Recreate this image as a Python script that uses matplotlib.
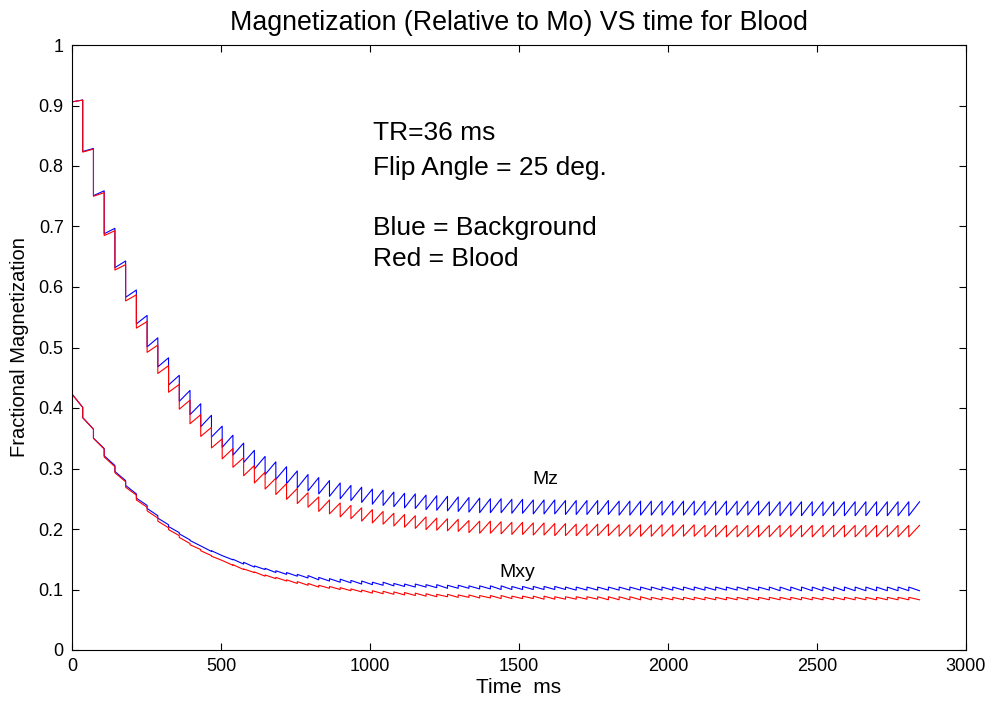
import matplotlib
matplotlib.use('Agg')
import matplotlib.pyplot as plt
import matplotlib.ticker as mticker
import numpy as np

plt.rcParams.update({
    'font.family': ['Liberation Sans', 'DejaVu Sans'],
    'xtick.direction': 'in',
    'ytick.direction': 'in',
    'xtick.top': True,
    'ytick.right': True,
})

TR = 36.0  # ms between pulses

# Mz just after each pulse (k = 0..78) and just before the next one (k = 1..79)
bg_mz_low = [0.906, 0.824, 0.751, 0.688, 0.632, 0.583, 0.539, 0.501, 0.468, 0.438,
             0.411, 0.389, 0.369, 0.352, 0.335, 0.322, 0.310, 0.299, 0.290, 0.282,
             0.275, 0.268, 0.263, 0.258, 0.254, 0.250, 0.247, 0.244, 0.241, 0.239,
             0.237, 0.235, 0.234, 0.232, 0.231, 0.230, 0.229, 0.228, 0.227, 0.227,
             0.227, 0.226, 0.226, 0.225, 0.225, 0.225, 0.224, 0.224, 0.224, 0.224,
             0.224, 0.223, 0.223, 0.223, 0.223, 0.223, 0.223, 0.223, 0.223, 0.223,
             0.223, 0.223, 0.223, 0.223, 0.223, 0.222, 0.222, 0.222, 0.222, 0.222,
             0.222, 0.222, 0.222, 0.222, 0.222, 0.222, 0.222, 0.222, 0.222]
bg_mz_high = [0.909, 0.829, 0.759, 0.697, 0.643, 0.595, 0.553, 0.516, 0.483, 0.454,
              0.429, 0.407, 0.388, 0.370, 0.355, 0.342, 0.330, 0.320, 0.311, 0.303,
              0.296, 0.290, 0.285, 0.280, 0.276, 0.272, 0.269, 0.266, 0.264, 0.261,
              0.259, 0.258, 0.256, 0.255, 0.254, 0.253, 0.252, 0.251, 0.250, 0.250,
              0.249, 0.249, 0.248, 0.248, 0.248, 0.247, 0.247, 0.247, 0.247, 0.247,
              0.246, 0.246, 0.246, 0.246, 0.246, 0.246, 0.246, 0.246, 0.246, 0.246,
              0.246, 0.246, 0.246, 0.246, 0.245, 0.245, 0.245, 0.245, 0.245, 0.245,
              0.245, 0.245, 0.245, 0.245, 0.245, 0.245, 0.245, 0.245, 0.245]
bl_mz_low = [0.906, 0.823, 0.750, 0.685, 0.628, 0.577, 0.532, 0.492, 0.457, 0.426,
             0.398, 0.374, 0.353, 0.334, 0.316, 0.302, 0.288, 0.276, 0.266, 0.257,
             0.249, 0.242, 0.236, 0.229, 0.225, 0.220, 0.217, 0.213, 0.210, 0.208,
             0.205, 0.203, 0.201, 0.199, 0.198, 0.197, 0.196, 0.194, 0.193, 0.193,
             0.192, 0.191, 0.191, 0.190, 0.190, 0.189, 0.189, 0.189, 0.189, 0.189,
             0.189, 0.188, 0.188, 0.188, 0.188, 0.188, 0.188, 0.188, 0.188, 0.187,
             0.187, 0.187, 0.187, 0.187, 0.187, 0.187, 0.187, 0.187, 0.187, 0.187,
             0.187, 0.187, 0.187, 0.187, 0.187, 0.187, 0.187, 0.187, 0.187]
bl_mz_high = [0.909, 0.828, 0.756, 0.693, 0.637, 0.587, 0.543, 0.504, 0.470, 0.439,
              0.413, 0.389, 0.368, 0.349, 0.333, 0.318, 0.305, 0.294, 0.284, 0.275,
              0.267, 0.260, 0.253, 0.248, 0.243, 0.239, 0.235, 0.232, 0.229, 0.226,
              0.224, 0.222, 0.220, 0.218, 0.217, 0.216, 0.214, 0.213, 0.213, 0.212,
              0.211, 0.211, 0.210, 0.210, 0.209, 0.209, 0.208, 0.208, 0.208, 0.208,
              0.207, 0.207, 0.207, 0.207, 0.207, 0.207, 0.207, 0.207, 0.206, 0.206,
              0.206, 0.206, 0.206, 0.206, 0.206, 0.206, 0.206, 0.206, 0.206, 0.206,
              0.206, 0.206, 0.206, 0.206, 0.206, 0.206, 0.206, 0.206, 0.206]

# Mxy right after each pulse and at the end of the TR
bg_mxy_start = [0.423, 0.384, 0.350, 0.321, 0.295, 0.272, 0.251, 0.234, 0.218, 0.204,
                0.192, 0.181, 0.172, 0.164, 0.156, 0.150, 0.145, 0.139, 0.135, 0.131,
                0.128, 0.125, 0.123, 0.120, 0.118, 0.117, 0.115, 0.114, 0.112, 0.112,
                0.110, 0.109, 0.109, 0.108, 0.108, 0.107, 0.107, 0.106, 0.106, 0.106,
                0.106, 0.105, 0.105, 0.105, 0.105, 0.105, 0.104, 0.104, 0.104, 0.104,
                0.104, 0.104, 0.104, 0.104, 0.104, 0.104, 0.104, 0.104, 0.104, 0.104,
                0.104, 0.104, 0.104, 0.104, 0.104, 0.104, 0.104, 0.104, 0.104, 0.104,
                0.104, 0.104, 0.104, 0.104, 0.104, 0.104, 0.104, 0.104, 0.104]
bg_mxy_end = [0.401, 0.365, 0.333, 0.305, 0.280, 0.258, 0.239, 0.222, 0.207, 0.194,
              0.182, 0.172, 0.163, 0.156, 0.149, 0.142, 0.137, 0.133, 0.128, 0.125,
              0.122, 0.119, 0.116, 0.114, 0.112, 0.111, 0.109, 0.108, 0.107, 0.106,
              0.105, 0.104, 0.104, 0.103, 0.102, 0.102, 0.102, 0.101, 0.101, 0.100,
              0.100, 0.100, 0.100, 0.100, 0.100, 0.100, 0.099, 0.099, 0.099, 0.099,
              0.099, 0.099, 0.099, 0.099, 0.099, 0.099, 0.099, 0.099, 0.099, 0.099,
              0.099, 0.099, 0.099, 0.099, 0.099, 0.098, 0.098, 0.098, 0.098, 0.098,
              0.098, 0.098, 0.098, 0.098, 0.098, 0.098, 0.098, 0.098, 0.098]
bl_mxy_start = [0.423, 0.384, 0.350, 0.319, 0.293, 0.269, 0.248, 0.230, 0.213, 0.199,
                0.186, 0.174, 0.164, 0.155, 0.148, 0.141, 0.134, 0.129, 0.124, 0.120,
                0.116, 0.113, 0.110, 0.107, 0.105, 0.103, 0.101, 0.099, 0.098, 0.097,
                0.096, 0.095, 0.094, 0.093, 0.092, 0.092, 0.091, 0.091, 0.090, 0.090,
                0.090, 0.089, 0.089, 0.089, 0.089, 0.088, 0.088, 0.088, 0.088, 0.088,
                0.088, 0.088, 0.088, 0.088, 0.087, 0.087, 0.087, 0.087, 0.087, 0.087,
                0.087, 0.087, 0.087, 0.087, 0.087, 0.087, 0.087, 0.087, 0.087, 0.087,
                0.087, 0.087, 0.087, 0.087, 0.087, 0.087, 0.087, 0.087, 0.087]
bl_mxy_end = [0.401, 0.365, 0.332, 0.303, 0.278, 0.256, 0.236, 0.218, 0.202, 0.189,
              0.176, 0.166, 0.156, 0.148, 0.140, 0.133, 0.128, 0.122, 0.118, 0.114,
              0.110, 0.107, 0.104, 0.102, 0.100, 0.098, 0.096, 0.094, 0.093, 0.092,
              0.091, 0.090, 0.089, 0.088, 0.088, 0.087, 0.087, 0.086, 0.086, 0.085,
              0.085, 0.085, 0.085, 0.084, 0.084, 0.084, 0.084, 0.084, 0.084, 0.083,
              0.083, 0.083, 0.083, 0.083, 0.083, 0.083, 0.083, 0.083, 0.083, 0.083,
              0.083, 0.083, 0.083, 0.083, 0.083, 0.083, 0.083, 0.083, 0.083, 0.083,
              0.083, 0.083, 0.083, 0.083, 0.083, 0.083, 0.083, 0.083, 0.083]

notes = ['TR=36 ms', 'Flip Angle = 25 deg.', 'Blue = Background', 'Red = Blood']
note_y = [0.855, 0.797, 0.697, 0.646]


def sawtooth(start_vals, end_vals):
    t0 = np.arange(len(start_vals)) * TR
    x = np.column_stack([t0, t0 + TR]).ravel()
    y = np.column_stack([start_vals, end_vals]).ravel()
    return x, y


fig = plt.figure(figsize=(9.92, 7.02), dpi=100)
ax = fig.add_axes([72 / 992, 1 - 650 / 702, 894 / 992, 605 / 702])

for lo, hi, xs, xe, col in [(bg_mz_low, bg_mz_high, bg_mxy_start, bg_mxy_end, '#0000ff'),
                            (bl_mz_low, bl_mz_high, bl_mxy_start, bl_mxy_end, '#ff0000')]:
    ax.plot(*sawtooth(lo, hi), color=col, lw=0.8)
    ax.plot(*sawtooth(xs, xe), color=col, lw=0.8)

ax.set_xlim(0, 3000)
ax.set_ylim(0, 1)
ax.set_xticks(np.arange(0, 3001, 500))
ax.set_yticks(np.arange(0, 1.01, 0.1))
ax.yaxis.set_major_formatter(mticker.FormatStrFormatter('%g'))
ax.tick_params(labelsize=13, length=5, width=0.8, pad=6)
for s in ax.spines.values():
    s.set_linewidth(0.8)

ax.set_title('Magnetization (Relative to Mo) VS time for Blood', fontsize=19.3, pad=11)
ax.set_xlabel('Time  ms', fontsize=15, labelpad=2)
ax.set_ylabel('Fractional Magnetization', fontsize=14.5, labelpad=7)

for txt, yv in zip(notes, note_y):
    ax.text(1010, yv, txt, fontsize=19, va='center', ha='left')
ax.text(1545, 0.281, 'Mz', fontsize=14, va='center')
ax.text(1435, 0.128, 'Mxy', fontsize=14, va='center')

fig.savefig('out.png', dpi=100)
